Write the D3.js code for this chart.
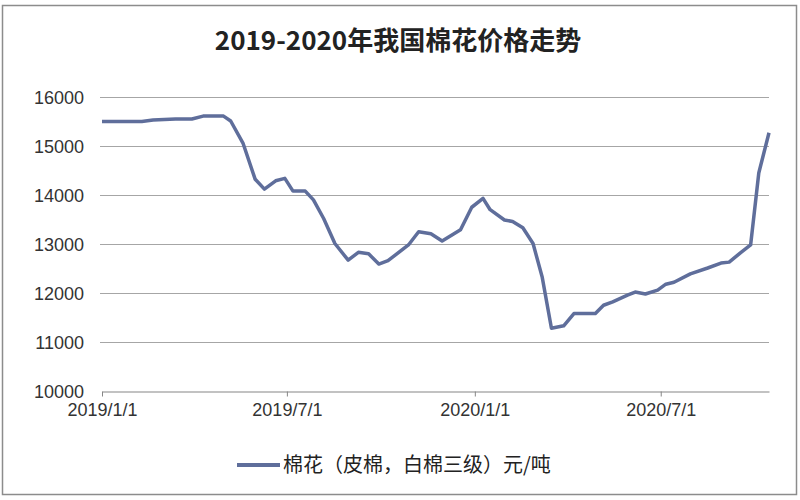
<!DOCTYPE html>
<html>
<head>
<meta charset="utf-8">
<script src="https://cdn.jsdelivr.net/npm/d3@7"></script>
<style>
  html, body { margin: 0; padding: 0; background: #fff; }
  svg { display: block; }
</style>
</head>
<body>
<svg id="chart" width="800" height="500"></svg>
<script>
// ---- Data ----
const title = "2019-2020年我国棉花价格走势";
const seriesName = "棉花（皮棉，白棉三级）元/吨";
const dates = [
  "2019-01-01","2019-02-09","2019-02-20","2019-03-14","2019-03-30","2019-04-10",
  "2019-04-30","2019-05-07","2019-05-19","2019-05-31","2019-06-09","2019-06-20",
  "2019-06-29","2019-07-07","2019-07-19","2019-07-27","2019-08-06","2019-08-17",
  "2019-08-30","2019-09-09","2019-09-19","2019-09-29","2019-10-08","2019-10-28",
  "2019-11-07","2019-11-19","2019-11-30","2019-12-18","2019-12-29","2020-01-09",
  "2020-01-16","2020-01-30","2020-02-07","2020-02-17","2020-02-27","2020-03-07",
  "2020-03-16","2020-03-28","2020-04-07","2020-04-28","2020-05-06","2020-05-15",
  "2020-05-30","2020-06-06","2020-06-16","2020-06-28","2020-07-06","2020-07-14",
  "2020-07-30","2020-08-16","2020-08-29","2020-09-06","2020-09-17","2020-09-27",
  "2020-10-05","2020-10-15"
];
const prices = [
  15500,15500,15530,15550,15550,15610,
  15610,15510,15060,14320,14120,14290,
  14340,14080,14080,13900,13520,13010,
  12670,12830,12800,12590,12660,12980,
  13250,13210,13060,13290,13750,13930,
  13700,13490,13460,13330,13010,12320,
  11280,11330,11580,11580,11750,11820,
  11960,12020,11980,12060,12180,12220,
  12390,12510,12610,12630,12820,12980,
  14450,15270
];
const xTickDates = ["2019-01-01","2019-07-01","2020-01-01","2020-07-01"];
const xTickLabels = ["2019/1/1","2019/7/1","2020/1/1","2020/7/1"];
const yTicks = [10000,11000,12000,13000,14000,15000,16000];
const xDomain = ["2019-01-01","2020-10-15"];
const yDomain = [10000,16000];

// ---- Drawing ----
const parse = d3.timeParse("%Y-%m-%d");
const data = dates.map((d, i) => ({ date: parse(d), value: prices[i] }));

const svg = d3.select("#chart");
const plot = { left: 102, right: 769, top: 97, bottom: 391 };

const x = d3.scaleTime().domain(xDomain.map(parse)).range([plot.left, plot.right]);
const y = d3.scaleLinear().domain(yDomain).range([plot.bottom, plot.top]);

// outer frame
svg.append("rect")
  .attr("x", 2.5).attr("y", 5.5).attr("width", 794).attr("height", 489)
  .attr("fill", "#fff").attr("stroke", "#8c8c8c").attr("stroke-width", 1.5);

// title
svg.append("text")
  .attr("x", 398).attr("y", 50)
  .attr("text-anchor", "middle")
  .attr("font-family", "'Noto Sans CJK SC', sans-serif")
  .attr("font-weight", "bold")
  .attr("font-size", 26)
  .attr("fill", "#222")
  .text(title);

// gridlines
svg.append("g").selectAll("line")
  .data(yTicks.filter(t => t !== yDomain[0]))
  .join("line")
  .attr("x1", plot.left - 2).attr("x2", plot.right)
  .attr("y1", d => Math.round(y(d)) + 0.5).attr("y2", d => Math.round(y(d)) + 0.5)
  .attr("stroke", "#a6a6a6").attr("stroke-width", 1);

// y labels
svg.append("g").selectAll("text")
  .data(yTicks)
  .join("text")
  .attr("x", 84).attr("y", d => y(d) + 6.5)
  .attr("text-anchor", "end")
  .attr("font-family", "'Liberation Sans', Arial, sans-serif")
  .attr("font-size", 18)
  .attr("fill", "#333")
  .text(d => d);

// x axis
const xAxis = d3.axisBottom(x)
  .tickValues(xTickDates.map(parse))
  .tickFormat((d, i) => xTickLabels[i])
  .tickSize(5)
  .tickSizeOuter(0)
  .tickPadding(7);
const gx = svg.append("g")
  .attr("transform", `translate(0,${Math.round(plot.bottom) + 0.5})`)
  .call(xAxis);
gx.select(".domain").attr("stroke", "#868686").attr("stroke-width", 1.2);
gx.selectAll(".tick line").attr("stroke", "#868686");
gx.selectAll(".tick text")
  .attr("font-family", "'Liberation Sans Narrow', 'Liberation Sans', Arial, sans-serif")
  .attr("font-size", 18)
  .attr("fill", "#333");

// line
const line = d3.line().x(d => x(d.date)).y(d => y(d.value));
svg.append("path")
  .datum(data)
  .attr("d", line)
  .attr("fill", "none")
  .attr("stroke", "#5f6e9b")
  .attr("stroke-width", 3.5)
  .attr("stroke-linejoin", "round");

// legend
const lg = svg.append("g");
lg.append("line")
  .attr("x1", 237).attr("x2", 280).attr("y1", 465).attr("y2", 465)
  .attr("stroke", "#5f6e9b").attr("stroke-width", 4);
lg.append("text")
  .attr("x", 283).attr("y", 472)
  .attr("font-family", "'Noto Sans CJK SC', sans-serif")
  .attr("font-size", 20)
  .attr("fill", "#222")
  .text(seriesName);
</script>
</body>
</html>
